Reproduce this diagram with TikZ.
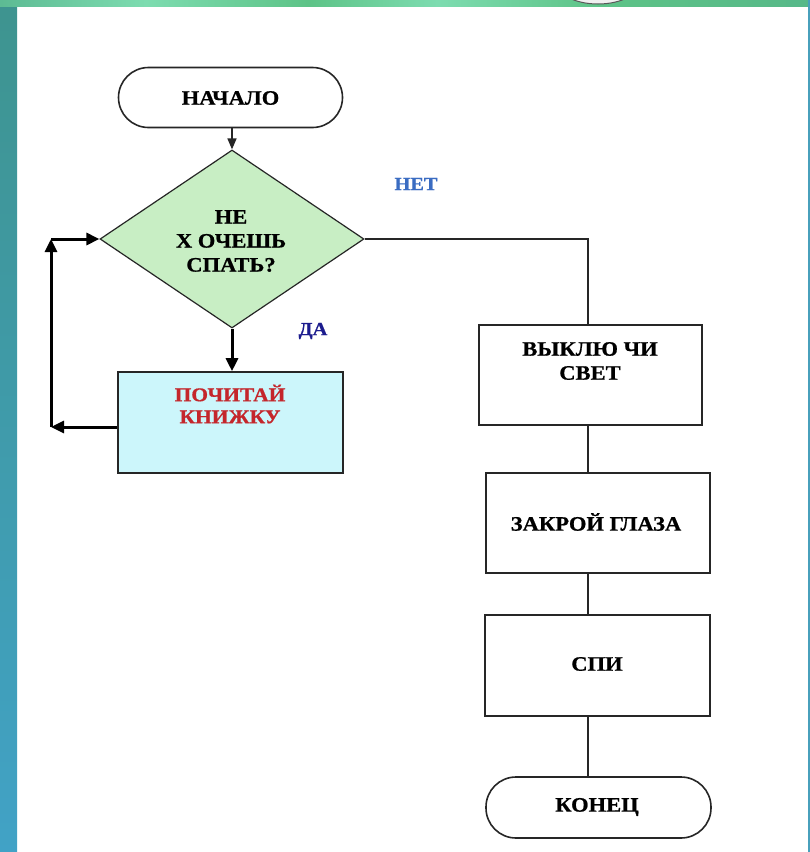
\documentclass[tikz,border=0pt]{standalone}
\usepackage{fontspec}
\setmainfont{Liberation Serif}[FakeStretch=1.1, BoldFeatures={FakeBold=0.8}]
\usetikzlibrary{shapes.geometric,arrows.meta}
\definecolor{bordA}{HTML}{3E948F}
\definecolor{bordB}{HTML}{41A2C6}
\definecolor{grA}{HTML}{52B08A}
\definecolor{grB}{HTML}{5DC387}
\definecolor{grL}{HTML}{7DDCB0}
\definecolor{blR}{HTML}{48A0BC}
\definecolor{decfill}{HTML}{C8EEC4}
\definecolor{readfill}{HTML}{CCF6FB}
\definecolor{redtxt}{HTML}{C4262B}
\definecolor{datxt}{HTML}{1C1C8E}
\definecolor{nettxt}{HTML}{3A6CC2}
\definecolor{ln}{HTML}{262626}
\pgfdeclarehorizontalshading{topband}{100bp}{color(0bp)=(bordA); color(22bp)=(grA); color(34bp)=(grL); color(44bp)=(grB); color(52bp)=(grL); color(62bp)=(grB); color(85bp)=(grA); color(100bp)=(blR)}
\tikzset{
  txt/.style={font=\fontsize{20.5}{24}\selectfont\bfseries, align=center, inner sep=0pt},
  term/.style={draw=ln, line width=1.6pt, rounded corners=30pt, inner sep=0pt},
  procbox/.style={draw=ln, line width=1.6pt, inner sep=0pt},
  thin/.style={draw=ln, line width=1.6pt},
  thick/.style={draw=black, line width=3pt},
  tipS/.style={-{Triangle[length=11pt,width=9pt]}},
  tipL/.style={-{Triangle[length=13pt,width=12pt]}}
}
\begin{document}
\begin{tikzpicture}[x=1pt,y=-1pt]
\useasboundingbox (0,0) rectangle (810,852);
% background / frame
\fill[white] (0,0) rectangle (810,852);
\shade[top color=bordA, bottom color=bordB] (0,0) rectangle (17,852);
\shade[shading=topband] (0,0) rectangle (810,6);
\begin{scope}
  \clip (17,0) rectangle (810,6);
  \draw[draw=gray!70!black, fill=gray!12, line width=1pt] (598,-18) ellipse [x radius=42, y radius=22];
\end{scope}
\fill[blR] (808,0) rectangle (810,852);

% nodes
\node[term, minimum width=224pt, minimum height=60pt] (start) at (230.5,97.5) {};
\node[txt] (starttxt) at (230.5,98) {НАЧАЛО};

\node[diamond, draw=ln, line width=1.2pt, fill=decfill, minimum width=264pt, minimum height=178pt, inner sep=0pt] (dec) at (232,239) {};
\node[txt] (dectxt) at (231,241) {НЕ\\Х ОЧЕШЬ\\СПАТЬ?};

\node[procbox, fill=readfill, minimum width=225pt, minimum height=101pt] (read) at (230.5,422.5) {};
\node[txt, text=redtxt, font=\fontsize{19.5}{22}\selectfont\bfseries] (readtxt) at (230,404) {ПОЧИТАЙ\\КНИЖКУ};

\node[procbox, minimum width=223pt, minimum height=100pt] (vyk) at (590.5,375) {};
\node[txt] (vyktxt) at (590,361) {ВЫКЛЮ ЧИ\\СВЕТ};

\node[procbox, minimum width=224pt, minimum height=100pt] (zak) at (598,523) {};
\node[txt] (zaktxt) at (596,522) {ЗАКРОЙ ГЛАЗА};

\node[procbox, minimum width=225pt, minimum height=101pt] (spi) at (597.5,665.5) {};
\node[txt] (spitxt) at (597,664) {СПИ};

\node[term, minimum width=225pt, minimum height=61pt] (end) at (598.5,807.5) {};
\node[txt] (endtxt) at (597,807) {КОНЕЦ};

\node[txt, text=nettxt, font=\fontsize{18.5}{20}\selectfont\bfseries] (net) at (416,184) {НЕТ};
\node[txt, text=datxt, font=\fontsize{18.5}{20}\selectfont\bfseries] (da) at (313,331) {ДА};

% helper coordinates
\coordinate (col) at (588,239);
\coordinate (lb) at (51,427);
\coordinate (lt) at (51,239);

% connectors
\draw[thin, tipS] (start.south -| dec.north) -- (dec.north);
\draw[thick, tipL] (dec.south) -- (read.north -| dec.south);
\draw[thick, tipL] (read.west |- lb) -- (lb);
\draw[thick, tipL] (lb) -- (lt);
\draw[thick, tipL] (lt) -- (dec.west);
\draw[thin] (dec.east) -- (col) -- (col |- vyk.north);
\draw[thin] (vyk.south -| col) -- (zak.north -| col);
\draw[thin] (zak.south -| col) -- (spi.north -| col);
\draw[thin] (spi.south -| col) -- (end.north -| col);
\end{tikzpicture}
\end{document}
